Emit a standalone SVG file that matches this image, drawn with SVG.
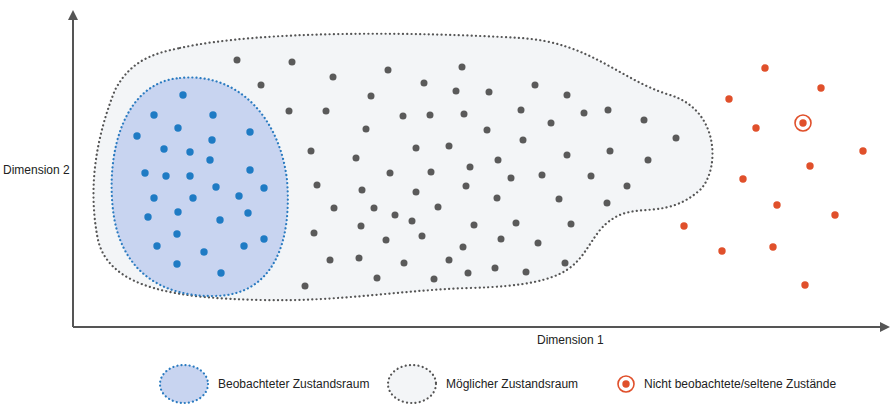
<svg xmlns="http://www.w3.org/2000/svg" width="895" height="413" viewBox="0 0 895 413">
<style>
text{font-family:"Liberation Sans",Arial,sans-serif;font-size:12px;fill:#222}
.g{fill:#5a5a5a}.b{fill:#1f7bc4}.r{fill:#e0502b}
.poss{fill:#f3f5f7;stroke:#555;stroke-width:2.2;stroke-dasharray:0.1 4.2;stroke-linecap:round}
.obs{fill:#c8d4f0;stroke:#2b7bc0;stroke-width:2.2;stroke-dasharray:0.1 4;stroke-linecap:round}
.ax{stroke:#555;stroke-width:2;fill:none}
</style>
<defs><marker id="ar" markerWidth="10" markerHeight="10" refX="8" refY="5" orient="auto" markerUnits="userSpaceOnUse"><path d="M0,0 L10,5 L0,10 z" fill="#555"/></marker></defs>
<g id="axes">
<line class="ax" x1="73" y1="327" x2="73" y2="12" marker-end="url(#ar)"/>
<line class="ax" x1="73" y1="327" x2="888" y2="327" marker-end="url(#ar)"/>
<text x="3" y="174">Dimension 2</text>
<text x="537" y="344">Dimension 1</text>
</g>
<g id="possible">
<path class="poss" d="M180,48 C260,30 420,32 520,38 C590,42 620,80 670,95 C720,110 720,170 700,190 C660,225 630,195 600,230 C575,262 580,285 470,288 C400,290 340,302 260,300 C180,298 110,290 98,240 C88,190 95,140 115,90 C130,62 150,54 180,48 Z"/>
</g>
<g id="observed">
<path class="obs" d="M180,78 C240,72 280,120 287,180 C292,240 275,295 215,296 C160,297 120,270 113,210 C106,150 125,82 180,78 Z"/>
</g>
<g id="grayDots" class="g">
<circle cx="237" cy="60" r="3.5"/><circle cx="292" cy="62" r="3.5"/><circle cx="388" cy="70" r="3.5"/><circle cx="462" cy="67" r="3.5"/><circle cx="261" cy="85" r="3.5"/><circle cx="333" cy="77" r="3.5"/><circle cx="424" cy="83" r="3.5"/><circle cx="456" cy="91" r="3.5"/><circle cx="489" cy="92" r="3.5"/><circle cx="535" cy="85" r="3.5"/><circle cx="567" cy="95" r="3.5"/><circle cx="371" cy="96" r="3.5"/><circle cx="289" cy="111" r="3.5"/><circle cx="326" cy="111" r="3.5"/><circle cx="403" cy="116" r="3.5"/><circle cx="430" cy="115" r="3.5"/><circle cx="464" cy="114" r="3.5"/><circle cx="521" cy="110" r="3.5"/><circle cx="584" cy="113" r="3.5"/><circle cx="608" cy="110" r="3.5"/><circle cx="366" cy="129" r="3.5"/><circle cx="487" cy="130" r="3.5"/><circle cx="551" cy="123" r="3.5"/><circle cx="644" cy="120" r="3.5"/><circle cx="311" cy="151" r="3.5"/><circle cx="356" cy="158" r="3.5"/><circle cx="416" cy="148" r="3.5"/><circle cx="449" cy="146" r="3.5"/><circle cx="523" cy="140" r="3.5"/><circle cx="567" cy="155" r="3.5"/><circle cx="610" cy="151" r="3.5"/><circle cx="676" cy="138" r="3.5"/><circle cx="648" cy="160" r="3.5"/><circle cx="498" cy="160" r="3.5"/><circle cx="390" cy="173" r="3.5"/><circle cx="431" cy="172" r="3.5"/><circle cx="470" cy="167" r="3.5"/><circle cx="317" cy="185" r="3.5"/><circle cx="362" cy="190" r="3.5"/><circle cx="416" cy="192" r="3.5"/><circle cx="466" cy="186" r="3.5"/><circle cx="511" cy="178" r="3.5"/><circle cx="542" cy="175" r="3.5"/><circle cx="591" cy="176" r="3.5"/><circle cx="627" cy="186" r="3.5"/><circle cx="334" cy="208" r="3.5"/><circle cx="374" cy="208" r="3.5"/><circle cx="438" cy="207" r="3.5"/><circle cx="395" cy="215" r="3.5"/><circle cx="497" cy="198" r="3.5"/><circle cx="559" cy="199" r="3.5"/><circle cx="607" cy="203" r="3.5"/><circle cx="361" cy="226" r="3.5"/><circle cx="412" cy="221" r="3.5"/><circle cx="474" cy="225" r="3.5"/><circle cx="516" cy="223" r="3.5"/><circle cx="571" cy="224" r="3.5"/><circle cx="314" cy="233" r="3.5"/><circle cx="386" cy="240" r="3.5"/><circle cx="422" cy="236" r="3.5"/><circle cx="463" cy="247" r="3.5"/><circle cx="501" cy="239" r="3.5"/><circle cx="538" cy="243" r="3.5"/><circle cx="330" cy="260" r="3.5"/><circle cx="359" cy="258" r="3.5"/><circle cx="404" cy="263" r="3.5"/><circle cx="449" cy="260" r="3.5"/><circle cx="565" cy="263" r="3.5"/><circle cx="377" cy="278" r="3.5"/><circle cx="434" cy="279" r="3.5"/><circle cx="468" cy="273" r="3.5"/><circle cx="495" cy="268" r="3.5"/><circle cx="526" cy="272" r="3.5"/><circle cx="305" cy="286" r="3.5"/>
</g>
<g id="blueDots" class="b">
<circle cx="183" cy="95" r="3.7"/><circle cx="154" cy="115" r="3.7"/><circle cx="213" cy="115" r="3.7"/><circle cx="178" cy="128" r="3.7"/><circle cx="250" cy="132" r="3.7"/><circle cx="137" cy="136" r="3.7"/><circle cx="212" cy="140" r="3.7"/><circle cx="164" cy="149" r="3.7"/><circle cx="190" cy="152" r="3.7"/><circle cx="210" cy="160" r="3.7"/><circle cx="145" cy="173" r="3.7"/><circle cx="250" cy="170" r="3.7"/><circle cx="166" cy="176" r="3.7"/><circle cx="190" cy="176" r="3.7"/><circle cx="216" cy="187" r="3.7"/><circle cx="264" cy="188" r="3.7"/><circle cx="154" cy="198" r="3.7"/><circle cx="193" cy="198" r="3.7"/><circle cx="239" cy="196" r="3.7"/><circle cx="178" cy="212" r="3.7"/><circle cx="148" cy="217" r="3.7"/><circle cx="220" cy="220" r="3.7"/><circle cx="248" cy="213" r="3.7"/><circle cx="177" cy="234" r="3.7"/><circle cx="264" cy="239" r="3.7"/><circle cx="157" cy="246" r="3.7"/><circle cx="204" cy="252" r="3.7"/><circle cx="244" cy="246" r="3.7"/><circle cx="177" cy="264" r="3.7"/><circle cx="221" cy="273" r="3.7"/>
</g>
<g id="redDots" class="r">
<circle cx="765" cy="68" r="3.7"/><circle cx="821" cy="88" r="3.7"/><circle cx="729" cy="99" r="3.7"/><circle cx="756" cy="128" r="3.7"/><circle cx="803" cy="123" r="3.7"/><circle cx="803" cy="123" r="8" fill="none" stroke="#e0502b" stroke-width="1.6"/><circle cx="863" cy="151" r="3.7"/><circle cx="810" cy="166" r="3.7"/><circle cx="743" cy="179" r="3.7"/><circle cx="777" cy="205" r="3.7"/><circle cx="835" cy="215" r="3.7"/><circle cx="684" cy="226" r="3.7"/><circle cx="773" cy="247" r="3.7"/><circle cx="722" cy="251" r="3.7"/><circle cx="805" cy="285" r="3.7"/>
</g>
<g id="legend">
<ellipse class="obs" cx="184" cy="384" rx="24" ry="19"/>
<text x="218" y="388">Beobachteter Zustandsraum</text>
<ellipse class="poss" cx="412" cy="384" rx="24" ry="19"/>
<text x="446" y="388">Möglicher Zustandsraum</text>
<circle cx="626" cy="384" r="8" fill="none" stroke="#e0502b" stroke-width="1.6"/><circle class="r" cx="626" cy="384" r="3.7"/>
<text x="644" y="388">Nicht beobachtete/seltene Zustände</text>
</g>
</svg>
